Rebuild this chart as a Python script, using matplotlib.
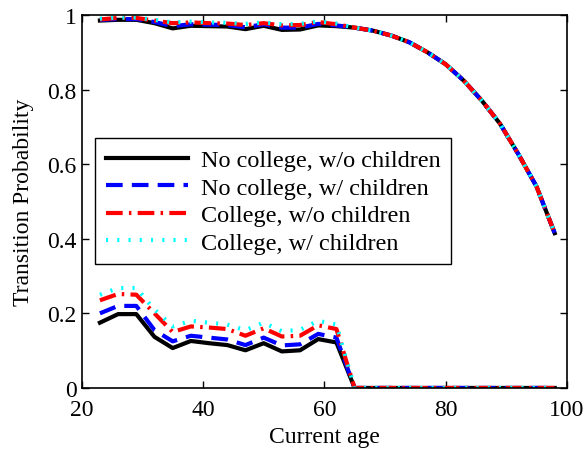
import numpy as np
import matplotlib
matplotlib.use('Agg')
import matplotlib.pyplot as plt

plt.rcParams['font.family'] = ['Liberation Serif', 'DejaVu Serif']
plt.rcParams['mathtext.fontset'] = 'stix'

# ages, every 3 years
age = [23, 26, 29, 32, 35, 38, 41, 44, 47, 50, 53, 56, 59, 62,
       65, 68, 71, 74, 77, 80, 83, 86, 89, 92, 95, 98]

# upper branch (stay probability), shared tail after 62
upper_tail = [0.966, 0.958, 0.945, 0.927, 0.900, 0.868, 0.824, 0.770, 0.708, 0.627, 0.540, 0.415]
upper_nc_wo = [0.985, 0.987, 0.987, 0.978, 0.964, 0.971, 0.970, 0.969, 0.962, 0.971, 0.960, 0.961, 0.972, 0.970] + upper_tail
upper_nc_w = [0.987, 0.989, 0.989, 0.981, 0.970, 0.975, 0.974, 0.973, 0.967, 0.975, 0.966, 0.966, 0.976, 0.972] + upper_tail
upper_c_wo = [0.988, 0.992, 0.992, 0.985, 0.978, 0.980, 0.978, 0.977, 0.973, 0.978, 0.972, 0.973, 0.981, 0.975] + upper_tail
upper_c_w = [0.990, 0.993, 0.993, 0.987, 0.980, 0.982, 0.980, 0.979, 0.976, 0.980, 0.975, 0.976, 0.983, 0.977] + upper_tail

# lower branch, zero from 65 on
lower_tail = [0.0] * 12
lower_nc_wo = [0.175, 0.198, 0.198, 0.137, 0.107, 0.126, 0.120, 0.115, 0.101, 0.120, 0.098, 0.101, 0.131, 0.122] + lower_tail
lower_nc_w = [0.200, 0.220, 0.220, 0.155, 0.125, 0.140, 0.135, 0.130, 0.115, 0.135, 0.114, 0.117, 0.145, 0.135] + lower_tail
lower_c_wo = [0.235, 0.252, 0.250, 0.200, 0.150, 0.165, 0.162, 0.158, 0.140, 0.160, 0.138, 0.140, 0.168, 0.158] + lower_tail
lower_c_w = [0.250, 0.268, 0.268, 0.210, 0.165, 0.180, 0.175, 0.170, 0.155, 0.175, 0.152, 0.156, 0.180, 0.170] + lower_tail

labels = ['No college, w/o children', 'No college, w/ children',
          'College, w/o children', 'College, w/ children']

fig = plt.figure(figsize=(5.88, 4.56), dpi=100)
ax = fig.add_axes([0.139, 0.147, 0.825, 0.818])

styles = [
    dict(color='black', linestyle='-', lw=3),
    dict(color='blue', linestyle=(0, (4, 2.2)), lw=3),
    dict(color='red', linestyle=(0, (4, 1.5, 0.6, 1.5)), lw=3),
    dict(color='cyan', linestyle=(0, (0.5, 2.2)), lw=3),
]
uppers = [upper_nc_wo, upper_nc_w, upper_c_wo, upper_c_w]
lowers = [lower_nc_wo, lower_nc_w, lower_c_wo, lower_c_w]

for up, lo, st, lab in zip(uppers, lowers, styles, labels):
    ax.plot(age, up, label=lab, **st)
    ax.plot(age, lo, **st)

ax.set_xlim(20, 100)
ax.set_ylim(0, 1)
ax.set_xticks([20, 40, 60, 80, 100])
ax.set_yticks([0, 0.2, 0.4, 0.6, 0.8, 1])
ax.set_yticklabels(['0', '0.2', '0.4', '0.6', '0.8', '1'])
ax.tick_params(direction='in', top=True, right=True, labelsize=17, length=5, width=1)
ax.tick_params(axis='x', pad=8)
for s in ax.spines.values():
    s.set_linewidth(1.2)
ax.set_xlabel('Current age', fontsize=17, labelpad=4)
ax.set_ylabel('Transition Probability', fontsize=17, labelpad=10)

leg = ax.legend(loc='center left', bbox_to_anchor=(0.027, 0.5), fontsize=17.5,
                fancybox=False, edgecolor='black', framealpha=1,
                handlelength=3.4, borderaxespad=0, labelspacing=0.22,
                handletextpad=0.5, borderpad=0.45)
leg.get_frame().set_linewidth(1)

fig.savefig('out.png', dpi=100)
